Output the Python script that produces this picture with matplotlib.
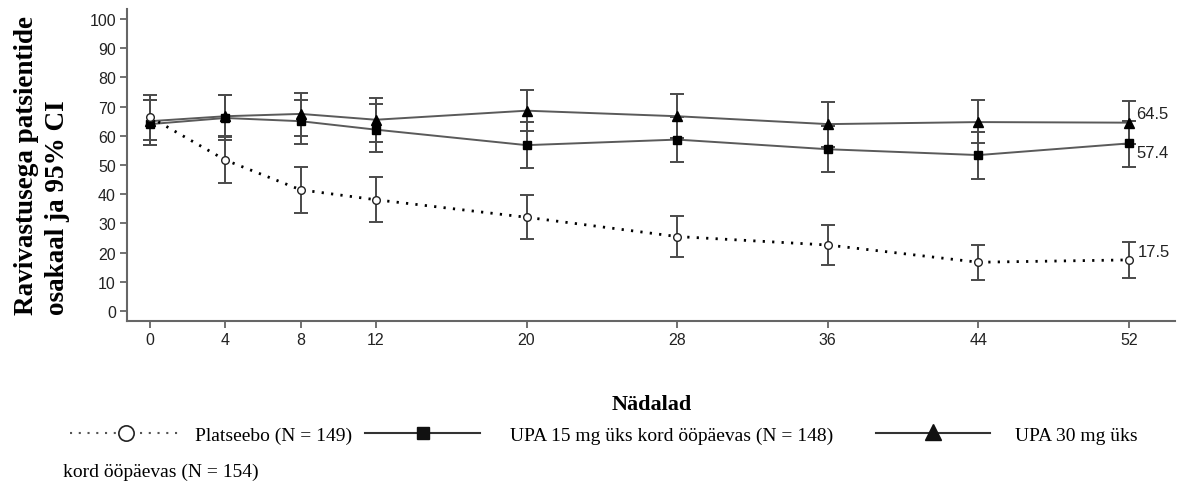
import matplotlib
matplotlib.use("Agg")
import matplotlib.pyplot as plt
from matplotlib.lines import Line2D

# ---- data ----
weeks = [0, 4, 8, 12, 20, 28, 36, 44, 52]
placebo = [66.4, 51.7, 41.5, 38.1, 32.1, 25.5, 22.6, 16.7, 17.5]
placebo_lo = [58.7, 43.7, 33.7, 30.4, 24.8, 18.5, 15.9, 10.6, 11.4]
placebo_hi = [74.1, 59.5, 49.4, 45.9, 39.6, 32.4, 29.3, 22.7, 23.5]
upa15 = [64.0, 66.1, 65.0, 62.1, 56.8, 58.7, 55.4, 53.4, 57.4]
upa15_lo = [57.0, 58.7, 57.2, 54.3, 48.9, 50.9, 47.5, 45.1, 49.3]
upa15_hi = [72.4, 74.1, 72.4, 70.9, 64.6, 66.5, 63.5, 61.2, 65.2]
upa30 = [65.0, 66.7, 67.5, 65.5, 68.6, 66.7, 64.0, 64.7, 64.5]
upa30_lo = [57.0, 59.8, 60.1, 58.0, 61.5, 59.2, 56.3, 57.4, 57.2]
upa30_hi = [72.4, 74.1, 74.7, 72.9, 75.8, 74.3, 71.7, 72.3, 71.8]
yticks = list(range(0, 101, 10))
end_labels = ["17.5", "57.4", "64.5"]
legend_labels = ["Platseebo (N = 149)", "UPA 15 mg üks kord ööpäevas (N = 148)", "UPA 30 mg üks"]
legend_cont = "kord ööpäevas (N = 154)"

W, H = 1179, 485
fig = plt.figure(figsize=(W / 100, H / 100), dpi=100)

def fx(x):
    return x / W

def fy(y):
    return 1 - y / H

# axes in pixel geometry
ax_l, ax_r, ax_t, ax_b = 127, 1175, 10, 322
ax = fig.add_axes([fx(ax_l), fy(ax_b), (ax_r - ax_l) / W, (ax_b - ax_t) / H])

pxw = (1129 - 150) / 52.0
ax.set_xlim(-(150 - ax_l) / pxw, 52 + (ax_r - 1129) / pxw)
pxu = (312 - 20) / 100.0
ax.set_ylim(-(ax_b - 312) / pxu, 100 + (20 - ax_t) / pxu)

ecol = "#4a4a4a"
lcol = "#5a5a5a"

def err(v, lo, hi):
    return [[a - b for a, b in zip(v, lo)], [b - a for a, b in zip(v, hi)]]

for v, lo, hi in [(upa15, upa15_lo, upa15_hi), (upa30, upa30_lo, upa30_hi),
                  (placebo, placebo_lo, placebo_hi)]:
    ax.errorbar(weeks, v, yerr=err(v, lo, hi), fmt="none", ecolor=ecol,
                elinewidth=1.4, capsize=5, capthick=1.4, zorder=2)

ax.plot(weeks, upa15, color=lcol, lw=1.4, zorder=3)
ax.plot(weeks, upa30, color=lcol, lw=1.4, zorder=3)
ax.plot(weeks, placebo, color="black", lw=2.0, linestyle=(0, (0.8, 2.6)), zorder=3)

ax.plot(weeks, upa15, linestyle="none", marker="s", ms=6, color="black", zorder=4)
ax.plot(weeks, upa30, linestyle="none", marker="^", ms=6.5, color="black", zorder=4)
ax.plot(weeks, placebo, linestyle="none", marker="o", ms=5.5, mfc="white", mec="#222222",
        mew=1.0, zorder=5)

# end labels
lab_font = dict(family="Liberation Sans", size=12, color="#222222")
ax.annotate(end_labels[2], (weeks[-1], upa30[-1]), xytext=(5, 1), textcoords="offset points",
            ha="left", va="bottom", **lab_font)
ax.annotate(end_labels[1], (weeks[-1], upa15[-1]), xytext=(5, -1), textcoords="offset points",
            ha="left", va="top", **lab_font)
ax.annotate(end_labels[0], (weeks[-1], placebo[-1]), xytext=(6, 1), textcoords="offset points",
            ha="left", va="bottom", **lab_font)

for s in ["top", "right"]:
    ax.spines[s].set_visible(False)
for s in ["left", "bottom"]:
    ax.spines[s].set_color("#666666")
    ax.spines[s].set_linewidth(1.5)
ax.set_xticks(weeks)
ax.set_yticks(yticks)
ax.tick_params(direction="out", length=5, width=1.3, color="#666666",
               labelcolor="#222222", labelsize=11.5, pad=3)
for lbl in ax.get_xticklabels() + ax.get_yticklabels():
    lbl.set_fontfamily("Liberation Sans")

# y label
fig.text(fx(42), fy(315), "Ravivastusega patsientide\nosakaal ja 95% CI", rotation=90,
         ha="center", va="bottom", multialignment="left", family="Liberation Serif",
         weight="bold", size=19.5, linespacing=1.28, color="black")

# x label
fig.text(fx(652), fy(410), "Nädalad", ha="center", va="baseline", family="Liberation Serif",
         weight="bold", size=16, color="black")

# legend (manual, wrapped)
tf = fig.transFigure
yl = 434
fig.add_artist(Line2D([fx(70), fx(180)], [fy(yl), fy(yl)], transform=tf, color="#555555",
                      lw=1.5, linestyle=(0, (1, 3.2))))
fig.add_artist(Line2D([fx(126)], [fy(yl)], transform=tf, marker="o", ms=11, mfc="white",
                      mec="#222222", mew=1.2, linestyle="none"))
fig.add_artist(Line2D([fx(365), fx(480)], [fy(yl), fy(yl)], transform=tf, color="#333333", lw=1.5))
fig.add_artist(Line2D([fx(423)], [fy(yl)], transform=tf, marker="s", ms=9, color="#111111",
                      linestyle="none"))
fig.add_artist(Line2D([fx(876), fx(990)], [fy(yl), fy(yl)], transform=tf, color="#333333", lw=1.5))
fig.add_artist(Line2D([fx(933)], [fy(yl - 1)], transform=tf, marker="^", ms=11, color="#111111",
                      linestyle="none"))

leg_font = dict(family="Liberation Serif", size=14, color="black", va="baseline", ha="left")
fig.text(fx(195), fy(441), legend_labels[0], **leg_font)
fig.text(fx(510), fy(441), legend_labels[1], **leg_font)
fig.text(fx(1015), fy(441), legend_labels[2], **leg_font)
fig.text(fx(63), fy(477), legend_cont, **leg_font)

fig.savefig("out.png", dpi=100)
